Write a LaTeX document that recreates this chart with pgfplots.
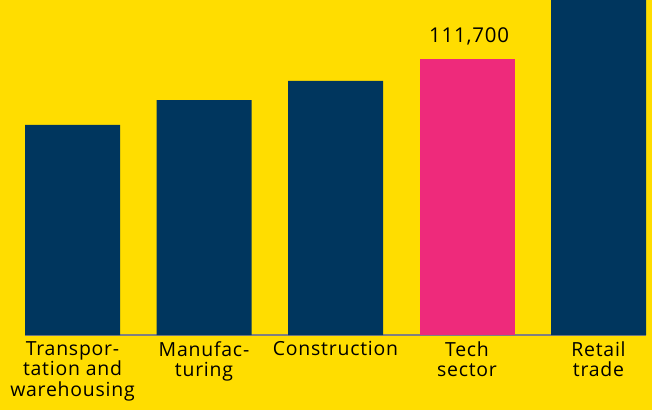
\documentclass[border=0pt]{standalone}
\usepackage{pgfplots}
\pgfplotsset{compat=1.18}
\usepackage{fontspec}
\setmainfont[LetterSpace=4]{Open Sans}
\definecolor{bgyellow}{RGB}{255,221,0}
\definecolor{navy}{RGB}{0,54,94}
\definecolor{techpink}{RGB}{238,42,123}
\begin{document}
\begin{tikzpicture}[x=1bp,y=1bp]
\fill[bgyellow] (0,0) rectangle (652,410);
\useasboundingbox (0,0) rectangle (652,410);
\begin{axis}[
  at={(25bp,75bp)}, anchor=south west,
  width=621bp, height=335bp, scale only axis,
  xmin=-0.3612, xmax=4.3612,
  ymin=0, ymax=135575,
  separate axis lines,
  axis x line*=bottom,
  x axis line style={draw=gray, line width=1.2pt, -},
  y axis line style={draw=none},
  ytick=\empty,
  xtick={0,1,2,3,4},
  xticklabels={{Transpor-\\tation and\\warehousing},{Manufac-\\turing},{Construction},{Tech\\sector},{Retail\\trade}},
  xticklabel style={align=center, font=\fontsize{19.5}{20.5}\selectfont, text=black, anchor=north, yshift=-3bp},
  major tick length=0pt,
  ybar, bar width=95bp, bar shift=0pt,
  clip=true,
]
\addplot[fill=navy, draw=none] coordinates {(0,85000) (1,95100) (2,102800) (4,150000)};
\addplot[fill=techpink, draw=none, nodes near coords={111,700}, nodes near coords style={font=\fontsize{20.5}{22}\selectfont, text=black, anchor=base, yshift=16bp, xshift=2bp}] coordinates {(3,111700)};
\end{axis}
\end{tikzpicture}
\end{document}
